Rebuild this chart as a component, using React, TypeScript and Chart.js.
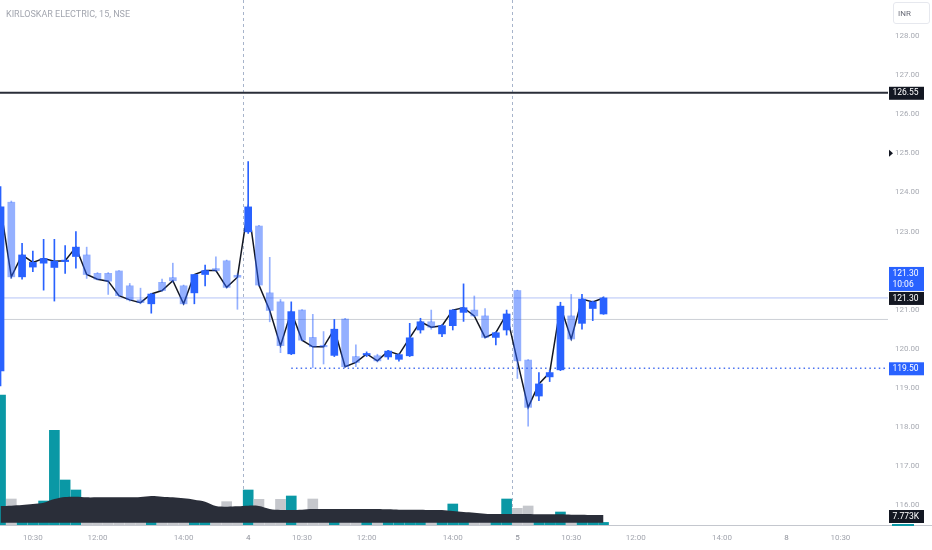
import React, { useEffect, useRef } from "react";
import { Chart, registerables } from "chart.js";

Chart.register(...registerables);

const TITLE = "KIRLOSKAR ELECTRIC, 15, NSE";
const CURRENCY = "INR";

// first visible 15-min bar = bar #2 of session "3" (09:45)
const FIRST_BAR = 2;

const opens = [
  119.43, 123.75, 121.84, 122.09, 122.19, 122.08, 122.23, 122.36, 122.4, 121.93, 121.93, 121.99, 121.61, 121.25, 121.15, 121.7, 121.82, 121.61, 121.43, 121.9, 122.05, 122.25, 121.88,
  122.99, 123.14, 121.43, 121.2, 119.87, 120.99, 120.29, 120.07, 119.83, 120.76, 119.8, 119.84, 119.82, 119.79, 119.73, 119.82, 120.48, 120.69, 120.38, 120.59, 120.93, 120.99, 120.84, 120.29, 120.48,
  121.49, 119.71, 118.79, 119.28, 119.46, 120.84, 120.65, 121.03, 120.89,
];
const highs = [
  124.15, 123.78, 122.7, 122.5, 122.8, 122.8, 122.64, 123.0, 122.6, 121.95, 121.95, 122.0, 121.67, 121.55, 121.42, 121.78, 122.19, 121.63, 121.9, 122.14, 122.35, 122.27, 121.92,
  124.79, 123.16, 122.34, 121.26, 121.2, 121.0, 120.88, 120.44, 120.75, 120.78, 120.1, 119.92, 119.86, 119.96, 119.87, 120.65, 120.78, 120.99, 120.62, 121.0, 121.66, 121.35, 121.03, 120.43, 120.99,
  121.5, 119.72, 119.39, 119.45, 121.19, 121.39, 121.39, 121.22, 121.33,
];
const lows = [
  119.05, 121.8, 121.78, 121.97, 121.5, 121.22, 121.93, 122.06, 121.8, 121.76, 121.39, 121.34, 121.22, 121.15, 120.91, 121.47, 121.7, 121.13, 121.15, 121.61, 121.98, 121.55, 121.01,
  122.95, 121.6, 120.69, 119.9, 119.85, 120.2, 119.52, 119.61, 119.8, 119.52, 119.54, 119.8, 119.66, 119.73, 119.68, 119.8, 120.4, 120.5, 120.31, 120.48, 120.7, 120.82, 120.27, 120.1, 120.35,
  119.24, 118.02, 118.67, 119.16, 119.44, 120.22, 120.5, 120.72, 120.88,
];
const closes = [
  123.63, 121.84, 122.4, 122.21, 122.31, 122.24, 122.25, 122.6, 121.9, 121.78, 121.73, 121.36, 121.25, 121.18, 121.4, 121.49, 121.74, 121.15, 121.9, 122.0, 122.0, 121.57, 121.83,
  123.63, 121.63, 120.98, 120.08, 120.95, 120.22, 120.05, 120.05, 120.5, 119.54, 119.65, 119.87, 119.69, 119.94, 119.85, 120.28, 120.69, 120.55, 120.59, 120.99, 121.05, 120.84, 120.29, 120.41, 120.89,
  119.69, 118.5, 119.1, 119.39, 121.09, 120.25, 121.27, 121.2, 121.3,
];
// volume in thousands
const volumes = [
  390, 78, 45, 50, 72, 284, 135, 105, 60, 55, 50, 60, 55, 45, 50, 40, 45, 55, 60, 45, 40, 70, 40,
  105, 77, 40, 77, 87, 38, 78, 35, 40, 38, 30, 22, 28, 25, 22, 35, 30, 28, 24, 63, 30, 25, 28, 22, 78,
  50, 57, 28, 22, 39, 22, 25, 20, 7.773,
];
const volumeMA = [
  57, 58, 60, 63, 67, 78, 84, 85, 83, 83, 83, 83, 83, 84, 87, 85, 83, 80, 76, 70, 57, 55, 56,
  58, 57, 48, 45, 45, 46, 48, 48, 48, 48, 48, 48, 48, 47, 46, 46, 46, 45, 45, 42, 39, 37, 34, 33, 33,
  33, 33, 32, 32, 32, 31, 31, 30, 30,
];

const tickIndexes = [5, 11, 19, 25, 30, 36, 44, 50, 55, 61, 69, 75, 80];
const tickLabels = ["10:30", "12:00", "14:00", "4", "10:30", "12:00", "14:00", "5", "10:30", "12:00", "14:00", "8", "10:30"];
const dayLabels = ["4", "5", "8"];
const priceTicks = [116, 117, 118, 119, 120, 121, 122, 123, 124, 125, 126, 127, 128];
const sessionBreaks = [24.5, 49.5];

const alertLevel = 126.55;
const lastPrice = 121.3;
const countdown = "10:06";
const refLevel = 120.75;
const supportLevel = 119.5;
const supportStart = 29;
const markerLevel = 125.0;
const lastVolumeLabel = "7.773K";

const X_MIN = 1.95;
const X_MAX = 84.42;
const Y_MIN = 115.49;
const Y_MAX = 128.924;
const VOL_MAX = 1575;

const BLUE = "#2962FF";
const LIGHT = "rgba(41,98,255,0.5)";
const TEAL = "#0A98A5";
const GREY = "#C5C7CC";
const DARK = "#2A2E39";
const INK = "#131722";
const FONT = "Roboto";

const idx = opens.map((_, j) => FIRST_BAR + j);
const isUp = opens.map((o, j) => closes[j] >= o);
const candleColors = isUp.map((u) => (u ? BLUE : LIGHT));

function tag(ctx: CanvasRenderingContext2D, top: number, lines: string[], bg: string) {
  const h = lines.length * 11 + 2;
  ctx.fillStyle = bg;
  ctx.fillRect(889, top, 35, h);
  ctx.fillStyle = "#FFFFFF";
  ctx.font = `8.5px ${FONT}`;
  ctx.textAlign = "left";
  ctx.textBaseline = "middle";
  lines.forEach((t, k) => ctx.fillText(t, 892.5, top + 1 + 5.5 + k * 11));
}

const overlay = {
  id: "overlay",
  beforeDatasetsDraw(chart: any) {
    const { ctx, chartArea, scales } = chart;
    ctx.save();
    ctx.strokeStyle = "#A7B4CB";
    ctx.lineWidth = 1;
    ctx.setLineDash([3, 3]);
    sessionBreaks.forEach((b) => {
      const x = Math.round(scales.x.getPixelForValue(b)) + 0.5;
      ctx.beginPath();
      ctx.moveTo(x, chartArea.top);
      ctx.lineTo(x, chartArea.bottom);
      ctx.stroke();
    });
    ctx.restore();
  },
  afterDraw(chart: any) {
    const { ctx, chartArea, scales, width } = chart;
    const y = scales.y;
    ctx.save();
    ctx.fillStyle = "#C4C7CE";
    ctx.fillRect(0, chartArea.bottom, width, 1);
    const my = y.getPixelForValue(markerLevel);
    ctx.fillStyle = INK;
    ctx.beginPath();
    ctx.moveTo(889, my - 3.5);
    ctx.lineTo(893, my);
    ctx.lineTo(889, my + 3.5);
    ctx.closePath();
    ctx.fill();
    const ay = y.getPixelForValue(alertLevel);
    tag(ctx, ay - 6, [alertLevel.toFixed(2)], INK);
    const ly = y.getPixelForValue(lastPrice);
    tag(ctx, ly - 7 - 24, [lastPrice.toFixed(2), countdown], BLUE);
    tag(ctx, ly - 6, [lastPrice.toFixed(2)], INK);
    const sy = y.getPixelForValue(supportLevel);
    tag(ctx, sy - 6, [supportLevel.toFixed(2)], BLUE);
    const vy = scales.yv.getPixelForValue(volumes[volumes.length - 1]);
    const vtop = Math.min(vy - 6, chartArea.bottom - 15);
    tag(ctx, vtop, [lastVolumeLabel], INK);
    ctx.fillStyle = TEAL;
    ctx.fillRect(892, chartArea.bottom - 1, 22, 2);
    ctx.restore();
  },
};

export default function App() {
  const ref = useRef<HTMLCanvasElement | null>(null);

  useEffect(() => {
    const canvas = ref.current;
    if (!canvas) return;

    const bodies = idx.map((x, j) => ({ x, y: [opens[j], closes[j]] }));
    const upperWicks = idx.map((x, j) => ({ x, y: [Math.max(opens[j], closes[j]), highs[j]] }));
    const lowerWicks = idx.map((x, j) => ({ x, y: [lows[j], Math.min(opens[j], closes[j])] }));
    const closeLine = idx.map((x, j) => ({ x, y: closes[j] }));
    const vols = idx.map((x, j) => ({ x, y: volumes[j] }));
    const volMA = idx.map((x, j) => ({ x, y: volumeMA[j] }));
    const hline = (v: number, from = X_MIN) => [
      { x: from, y: v },
      { x: X_MAX, y: v },
    ];

    const chart = new Chart(canvas, {
      type: "bar",
      data: {
        datasets: [
          {
            type: "bar",
            label: "Volume",
            data: vols as any,
            yAxisID: "yv",
            backgroundColor: isUp.map((u) => (u ? TEAL : GREY)),
            barThickness: 10,
            grouped: false,
            order: 20,
          },
          {
            type: "line",
            label: "Volume MA",
            data: volMA as any,
            yAxisID: "yv",
            borderWidth: 0,
            pointRadius: 0,
            tension: 0.3,
            backgroundColor: DARK,
            fill: { value: 7 } as any,
            order: 19,
          },
          {
            type: "line",
            label: "Alert",
            data: hline(alertLevel) as any,
            borderColor: "#2A2E39",
            borderWidth: 2,
            pointRadius: 0,
            order: 15,
          },
          {
            type: "line",
            label: "Last",
            data: hline(lastPrice) as any,
            borderColor: "#B4C3F7",
            borderWidth: 1,
            pointRadius: 0,
            order: 15,
          },
          {
            type: "line",
            label: "Ref",
            data: hline(refLevel) as any,
            borderColor: "#CDD0D6",
            borderWidth: 1,
            pointRadius: 0,
            order: 15,
          },
          {
            type: "line",
            label: "Support",
            data: hline(supportLevel, supportStart) as any,
            borderColor: "#4A72F0",
            borderWidth: 1.5,
            borderDash: [1.5, 3.2],
            pointRadius: 0,
            order: 15,
          },
          {
            type: "line",
            label: "Close",
            data: closeLine as any,
            borderColor: INK,
            borderWidth: 1.5,
            pointRadius: 0,
            tension: 0,
            order: 10,
          },
          {
            type: "bar",
            label: "Upper wick",
            data: upperWicks as any,
            backgroundColor: candleColors,
            barThickness: 1,
            grouped: false,
            order: 6,
          },
          {
            type: "bar",
            label: "Lower wick",
            data: lowerWicks as any,
            backgroundColor: candleColors,
            barThickness: 1,
            grouped: false,
            order: 6,
          },
          {
            type: "bar",
            label: "Body",
            data: bodies as any,
            backgroundColor: candleColors,
            barThickness: 7,
            minBarLength: 1.5,
            grouped: false,
            order: 5,
          },
        ] as any,
      },
      options: {
        responsive: false,
        animation: false,
        events: [],
        layout: { padding: 0, autoPadding: false },
        plugins: {
          legend: { display: false },
          tooltip: { enabled: false },
          title: { display: false },
        },
        scales: {
          x: {
            type: "linear",
            min: X_MIN,
            max: X_MAX,
            offset: false,
            grid: { display: false, drawTicks: false },
            border: { display: false },
            afterBuildTicks: (s: any) => {
              s.ticks = tickIndexes.map((v) => ({ value: v }));
            },
            afterFit: (s: any) => {
              s.height = 25;
              s.paddingLeft = 0;
              s.paddingRight = 0;
            },
            ticks: {
              autoSkip: false,
              maxRotation: 0,
              padding: 8,
              font: { family: FONT, size: 8 },
              color: (c: any) => {
                const k = tickIndexes.indexOf(c.tick?.value);
                return k >= 0 && dayLabels.includes(tickLabels[k]) ? "#8C8F98" : "#A3A6AF";
              },
              callback: (v: any) => {
                const k = tickIndexes.indexOf(Number(v));
                return k >= 0 ? tickLabels[k] : "";
              },
            },
          },
          y: {
            type: "linear",
            position: "right",
            min: Y_MIN,
            max: Y_MAX,
            grid: { display: false, drawTicks: false },
            border: { display: false },
            afterBuildTicks: (s: any) => {
              s.ticks = priceTicks.map((v) => ({ value: v }));
            },
            afterFit: (s: any) => {
              s.width = 44;
              s.paddingTop = 0;
              s.paddingBottom = 0;
            },
            ticks: {
              padding: 7,
              font: { family: FONT, size: 8 },
              color: "#A8ABB3",
              callback: (v: any) => Number(v).toFixed(2),
            },
          },
          yv: {
            type: "linear",
            display: false,
            min: 0,
            max: VOL_MAX,
          },
        } as any,
      },
      plugins: [overlay],
    });

    return () => chart.destroy();
  }, []);

  return (
    <div
      style={{
        position: "absolute",
        left: 0,
        top: 0,
        width: 932,
        height: 550,
        background: "#FFFFFF",
        overflow: "hidden",
      }}
    >
      <canvas ref={ref} width={932} height={550} style={{ display: "block", width: 932, height: 550 }} />
      <div
        style={{
          position: "absolute",
          left: 6,
          top: 9,
          font: `9px ${FONT}`,
          lineHeight: "11px",
          color: "#A3A6AF",
          whiteSpace: "nowrap",
        }}
      >
        {TITLE}
      </div>
      <div
        style={{
          position: "absolute",
          left: 893,
          top: 2,
          width: 37,
          height: 22,
          boxSizing: "border-box",
          border: "1px solid #E6E8EE",
          borderRadius: 3,
          font: `8px ${FONT}`,
          color: "#6A6D78",
          display: "flex",
          alignItems: "center",
          paddingLeft: 4,
        }}
      >
        {CURRENCY}
      </div>
    </div>
  );
}
